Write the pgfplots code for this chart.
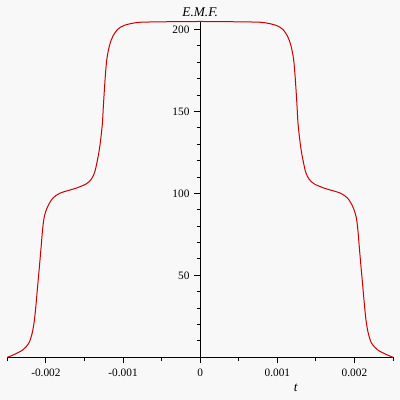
\documentclass[border=0pt]{standalone}
\usepackage{fontspec}
\setmainfont{Liberation Serif}
\usepackage{pgfplots}
\pgfplotsset{compat=1.18}
\definecolor{bg}{RGB}{248,248,248}
\definecolor{curve}{RGB}{204,0,0}
\begin{document}
\begin{tikzpicture}
\fill[bg] (0,0) rectangle (300pt,300pt);
\useasboundingbox (0,0) rectangle (300pt,300pt);
\begin{axis}[
  at={(5.5pt,32pt)}, anchor=south west,
  scale only axis,
  width=289.3pt, height=252pt,
  xmin=-0.0025, xmax=0.0025,
  ymin=0, ymax=205,
  axis lines=middle,
  axis line style={-, line width=0.75pt},
  hide obscured x ticks=false,
  hide obscured y ticks=false,
  scaled x ticks=false,
  xtick={-0.002,-0.001,0,0.001,0.002},
  xticklabels={-0.002,-0.001,0,0.001,0.002},
  minor xtick={-0.0025,-0.0015,-0.0005,0.0005,0.0015,0.0025},
  ytick={50,100,150,200},
  yticklabels={50,100,150,200},
  minor ytick={10,20,30,40,60,70,80,90,110,120,130,140,160,170,180,190},
  tick align=outside,
  major tick length=4.5pt,
  minor tick length=2.5pt,
  tick style={black, line width=0.75pt},
  ticklabel style={font=\fontsize{8.5}{10}\selectfont},
  xticklabel style={yshift=-1pt},
  xlabel={\textit{t}},
  ylabel={\textit{E.M.F.}},
  label style={font=\fontsize{9}{11}\selectfont},
  every axis x label/.style={at={(axis cs:0.00124,-18.7)}, anchor=center},
  every axis y label/.style={at={(axis cs:0,210.3)}, anchor=center},
  clip=false,
]
\addplot[curve, line width=0.75pt, smooth] coordinates {
(-0.0025,0) (-0.002409,1.8) (-0.002301,4.5) (-0.002223,8.5) (-0.002179,14.6)
(-0.002149,22.7) (-0.002127,32.9) (-0.002107,43.5) (-0.002084,55.5) (-0.002062,67.4)
(-0.002042,78.5) (-0.002020,86.0) (-0.001977,92.0) (-0.001912,97.0) (-0.001825,100.0)
(-0.001695,102.0) (-0.001608,103.2) (-0.001478,105.8) (-0.001413,108.6) (-0.001370,112.6)
(-0.001340,118.5) (-0.001305,127.5) (-0.001270,141.6) (-0.001253,155.0) (-0.001231,171.0)
(-0.001210,182.0) (-0.001175,190.4) (-0.001133,195.8) (-0.001068,200.2) (-0.000981,202.6)
(-0.000829,204.2) (-0.000656,204.6) (0,204.9)
(0.000656,204.6) (0.000829,204.2) (0.000981,202.6) (0.001068,200.2) (0.001133,195.8)
(0.001175,190.4) (0.001210,182.0) (0.001231,171.0) (0.001253,155.0) (0.001270,141.6)
(0.001305,127.5) (0.001340,118.5) (0.001370,112.6) (0.001413,108.6) (0.001478,105.8)
(0.001608,103.2) (0.001695,102.0) (0.001825,100.0) (0.001912,97.0) (0.001977,92.0)
(0.002020,86.0) (0.002042,78.5) (0.002062,67.4) (0.002084,55.5) (0.002107,43.5)
(0.002127,32.9) (0.002149,22.7) (0.002179,14.6) (0.002223,8.5) (0.002301,4.5)
(0.002409,1.8) (0.0025,0)
};
\end{axis}
\end{tikzpicture}
\end{document}
